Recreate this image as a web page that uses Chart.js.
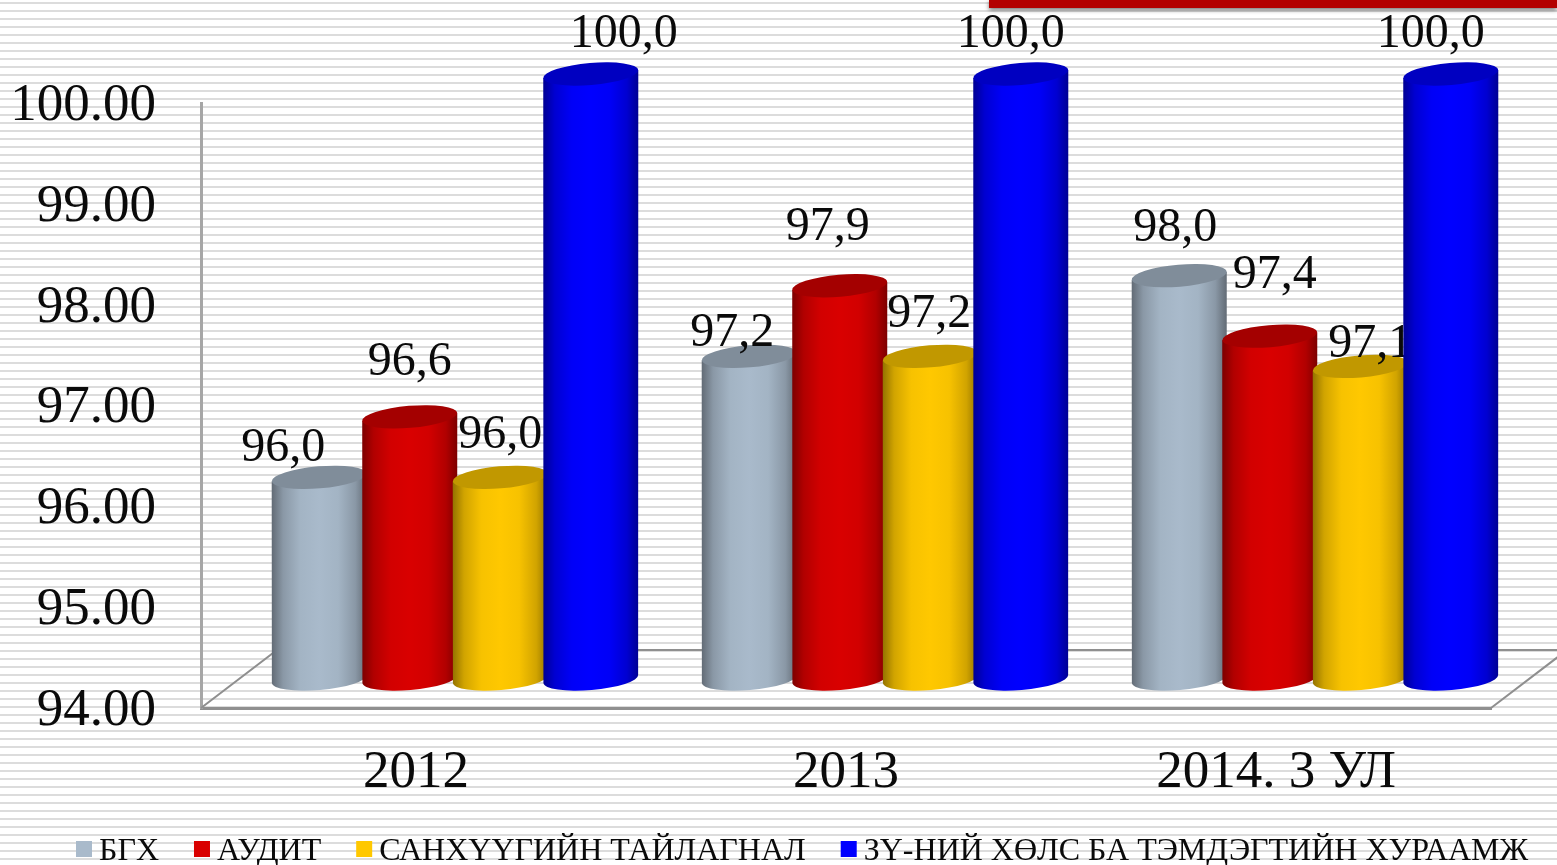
<!DOCTYPE html>
<html>
<head>
<meta charset="utf-8">
<title>Chart</title>
<script src="https://cdn.jsdelivr.net/npm/chart.js@4"></script>
<style>
  html, body { margin: 0; padding: 0; width: 1557px; height: 865px; overflow: hidden; background: #fff; }
  body { background-image: repeating-linear-gradient(to bottom, #fff 0, #fff 2px, #dcdcdc 2px, #dcdcdc 4px, #fff 4px, #fff 8px); }
  #banner { position: absolute; left: 989px; top: 0; width: 568px; height: 8px; background: #b30000; box-shadow: 0 2px 4px rgba(0,0,0,.55); }
  #myChart { position: absolute; left: 0; top: 0; }
</style>
</head>
<body>
<div id="banner"></div>
<canvas id="myChart" width="1557" height="865"></canvas>
<script>
const categories = ['2012', '2013', '2014. 3 УЛ'];
const seriesNames = ['БГХ', 'АУДИТ', 'САНХҮҮГИЙН ТАЙЛАГНАЛ', 'ЗҮ-НИЙ ХӨЛС БА ТЭМДЭГТИЙН ХУРААМЖ'];
const bgx = [96.0, 97.2, 98.0];
const audit = [96.6, 97.9, 97.4];
const sanhuu = [96.0, 97.2, 97.1];
const huraamj = [100.0, 100.0, 100.0];
const seriesValues = [bgx, audit, sanhuu, huraamj];
const seriesColors = ['#a9bacb', '#d90000', '#ffc800', '#0000ff'];
const yTicks = [94, 95, 96, 97, 98, 99, 100];

// hand placed value labels, [dx, baseline above cylinder top], one row per series
const labelOffsets = [
  [[-36, 16], [-17, 10], [-4, 35]],
  [[0, 42], [-12, 46], [5, 48]],
  [[0, 29], [-1, 29], [10, 9]],
  [[33, 27], [-10, 27], [-20, 27]]
];

const depthX = 39, depthY = -29;   // cylinders sit back on the floor
const floorX = 76, floorY = 58;
const serif = '"Liberation Serif", serif';

function shade(hex, k) {
  const n = parseInt(hex.slice(1), 16);
  return `rgb(${((n >> 16) & 255) * k | 0},${((n >> 8) & 255) * k | 0},${(n & 255) * k | 0})`;
}

function drawCylinder(ctx, bar, baseY, color, text, off) {
  const rx = bar.width / 2, ry = 11, tilt = -0.085;
  const cx = bar.x + depthX, top = bar.y + depthY, bottom = baseY + depthY;
  const lift = rx * Math.sin(tilt);

  ctx.save();
  const g = ctx.createLinearGradient(cx - rx, 0, cx + rx, 0);
  g.addColorStop(0, shade(color, 0.58));
  g.addColorStop(0.12, shade(color, 0.82));
  g.addColorStop(0.3, shade(color, 0.97));
  g.addColorStop(0.5, shade(color, 1));
  g.addColorStop(0.7, shade(color, 0.97));
  g.addColorStop(0.88, shade(color, 0.82));
  g.addColorStop(1, shade(color, 0.58));
  ctx.fillStyle = g;
  ctx.beginPath();
  ctx.moveTo(cx + rx, top + lift);
  ctx.ellipse(cx, bottom, rx, ry, tilt, 0, Math.PI);
  ctx.lineTo(cx - rx, top - lift);
  ctx.closePath();
  ctx.fill();

  ctx.fillStyle = shade(color, 0.76);
  ctx.beginPath();
  ctx.ellipse(cx, top, rx, ry, tilt, 0, Math.PI * 2);
  ctx.fill();

  ctx.fillStyle = '#0a0a0a';
  ctx.font = '48px ' + serif;
  ctx.textAlign = 'center';
  ctx.textBaseline = 'alphabetic';
  ctx.fillText(text, cx + off[0], top - off[1]);
  ctx.restore();
}

// series go left to right, each one painted over the one before it
const cylinders = {
  id: 'cylinders',
  beforeDatasetDraw() { return false; },
  afterDatasetsDraw(chart) {
    const baseY = chart.scales.y.getPixelForValue(yTicks[0]);
    chart.data.datasets.forEach((ds, i) => {
      chart.getDatasetMeta(i).data.forEach((bar, j) => {
        const text = ds.data[j].toFixed(1).replace('.', ',');
        drawCylinder(chart.ctx, bar, baseY, ds.backgroundColor, text, labelOffsets[i][j]);
      });
    });
  }
};

const floorLines = {
  id: 'floorLines',
  beforeDatasetsDraw(chart) {
    const { left, right, bottom } = chart.chartArea;
    const ctx = chart.ctx;
    ctx.save();
    ctx.strokeStyle = '#8f8f8f';
    ctx.lineWidth = 2;
    ctx.beginPath();
    ctx.moveTo(left, bottom);
    ctx.lineTo(left + floorX, bottom - floorY);
    ctx.lineTo(right + floorX, bottom - floorY);
    ctx.lineTo(right, bottom);
    ctx.stroke();
    ctx.restore();
  }
};

const bottomLegend = {
  id: 'bottomLegend',
  afterDraw(chart) {
    const ctx = chart.ctx;
    ctx.save();
    ctx.font = '32px ' + serif;
    ctx.textBaseline = 'alphabetic';
    let x = 76;
    chart.data.datasets.forEach((ds) => {
      ctx.fillStyle = ds.backgroundColor;
      ctx.fillRect(x, 841, 16, 16);
      ctx.fillStyle = '#0a0a0a';
      ctx.fillText(ds.label, x + 23, 860);
      x += 23 + ctx.measureText(ds.label).width + 35;
    });
    ctx.restore();
  }
};

new Chart(document.getElementById('myChart').getContext('2d'), {
  type: 'bar',
  data: {
    labels: categories,
    datasets: seriesNames.map((name, i) => ({
      label: name,
      data: seriesValues[i],
      backgroundColor: seriesColors[i],
      barPercentage: 1.05,
      categoryPercentage: 0.842
    }))
  },
  plugins: [floorLines, cylinders, bottomLegend],
  options: {
    responsive: false,
    animation: false,
    layout: { padding: { top: 103, right: 66 } },
    plugins: { legend: { display: false }, tooltip: { enabled: false } },
    scales: {
      x: {
        afterFit(s) { s.height = 157; },
        grid: { display: false },
        border: { color: '#8f8f8f', width: 3 },
        ticks: { color: '#0a0a0a', padding: 25, maxRotation: 0, font: { family: serif, size: 53 } }
      },
      y: {
        min: 94,
        max: 100,
        afterFit(s) { s.width = 201; },
        afterBuildTicks(s) { s.ticks = yTicks.map((v) => ({ value: v })); },
        grid: { display: false, drawTicks: false },
        border: { color: '#a6a6a6', width: 3 },
        ticks: { color: '#0a0a0a', padding: 45, labelOffset: 3, callback: (v) => v.toFixed(2), font: { family: serif, size: 53 } }
      }
    }
  }
});
</script>
</body>
</html>
